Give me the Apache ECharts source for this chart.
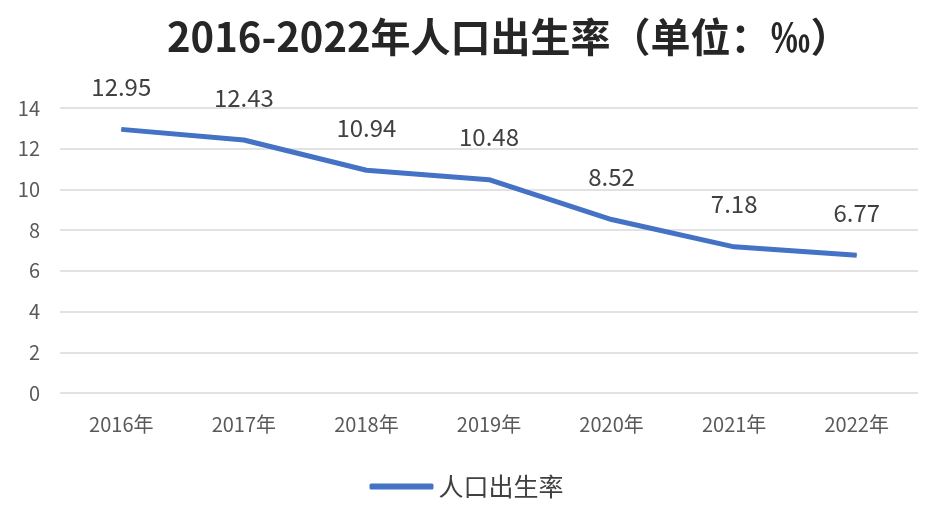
<!DOCTYPE html>
<html>
<head>
<meta charset="utf-8">
<script src="https://cdn.jsdelivr.net/npm/echarts@6/dist/echarts.min.js"></script>
<style>
  html, body { margin: 0; padding: 0; background: #fff; }
  #main { width: 933px; height: 525px; }
</style>
</head>
<body>
<div id="main"></div>
<script>
// 年份与出生率（‰）
const years = ['2016年', '2017年', '2018年', '2019年', '2020年', '2021年', '2022年'];
const birthRate = [12.95, 12.43, 10.94, 10.48, 8.52, 7.18, 6.77];
const seriesName = '人口出生率';

const chart = echarts.init(document.getElementById('main'));
const font = '"Noto Sans CJK SC", "Noto Sans", sans-serif';

chart.setOption({
    animation: false,
    title: {
        text: '2016-2022年人口出生率（单位：‰）',
        left: 162,
        top: 12,
        textStyle: { fontFamily: font, fontSize: 40, fontWeight: 'bold', color: '#262626' }
    },
    grid: { left: 60, right: 15, top: 108, bottom: 132 },
    legend: {
        bottom: 21,
        left: 'center',
        itemWidth: 64,
        itemHeight: 6,
        itemGap: 8,
        icon: 'roundRect',
        textStyle: { fontFamily: font, fontSize: 25, color: '#404040' },
        data: [seriesName]
    },
    xAxis: {
        type: 'category',
        data: years,
        axisLine: { show: false },
        axisTick: { show: false },
        axisLabel: { fontFamily: font, fontSize: 20, color: '#595959', margin: 21 }
    },
    yAxis: {
        type: 'value',
        min: 0,
        max: 14,
        interval: 2,
        axisLabel: { fontFamily: font, fontSize: 20, color: '#595959', margin: 20 },
        splitLine: { lineStyle: { color: '#d9d9d9', width: 1.5 } }
    },
    series: [{
        name: seriesName,
        type: 'line',
        data: birthRate,
        symbol: 'circle',
        symbolSize: 1,
        lineStyle: { color: '#4472c4', width: 5 },
        itemStyle: { color: '#4472c4' },
        label: {
            show: true,
            position: 'top',
            distance: 30,
            fontFamily: font,
            fontSize: 24,
            color: '#404040'
        }
    }]
});
</script>
</body>
</html>
